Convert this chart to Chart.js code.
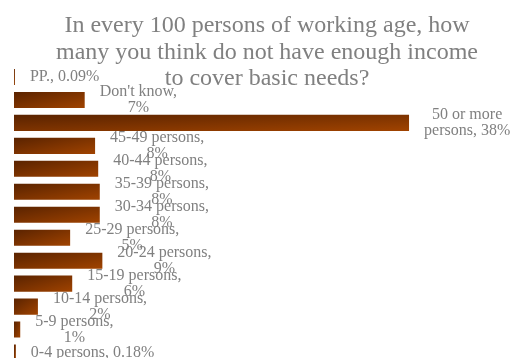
<!DOCTYPE html>
<html>
<head>
<meta charset="utf-8">
<title>Income poverty perception</title>
<script src="https://cdn.jsdelivr.net/npm/chart.js@4.4.0/dist/chart.umd.min.js"></script>
<style>
  html, body { margin: 0; padding: 0; overflow: hidden; background: #ffffff; }
  #wrap { width: 513px; height: 364px; }
</style>
</head>
<body>
<div id="wrap"><canvas id="incomeChart"></canvas></div>
<script>
const categories = [
  "PP.", "Don't know", "50 or more persons", "45-49 persons", "40-44 persons",
  "35-39 persons", "30-34 persons", "25-29 persons", "20-24 persons",
  "15-19 persons", "10-14 persons", "5-9 persons", "0-4 persons"
];
const shares = [0.09, 6.8, 38, 7.8, 8.1, 8.25, 8.25, 5.4, 8.5, 5.6, 2.3, 0.6, 0.18];
const titleLines = [
  "In every 100 persons of working age, how",
  "many you think do not have enough income",
  "to cover basic needs?"
];

const GREY = "#808080";
const SERIF = '"Liberation Serif", "Times New Roman", serif';

// corner-to-corner fill stretched with each bar's box (dark top-left, orange bottom-right)
function barGradient(ctx) {
  const chart = ctx.chart;
  if (ctx.type !== "data" || !chart.chartArea) return "#7d3300";
  const xs = chart.scales.x, ys = chart.scales.y;
  const x0 = xs.getPixelForValue(0);
  const w = Math.max(xs.getPixelForValue(ctx.raw) - x0, 0.5);
  const h = 16;
  const y0 = ys.getPixelForValue(ctx.dataIndex) - h / 2;
  const k = 2 * w * h / (w * w + h * h);
  const g = chart.ctx.createLinearGradient(x0, y0, x0 + k * h, y0 + k * w);
  g.addColorStop(0, "#5a2300");
  g.addColorStop(1, "#a04300");
  return g;
}

function formatShare(v) {
  return v < 0.5 ? v.toFixed(2) + "%" : Math.round(v) + "%";
}

function wrapWords(ctx, text, maxWidth) {
  const words = text.split(" ");
  const lines = [];
  let line = "";
  words.forEach(w => {
    const test = line ? line + " " + w : w;
    if (line && ctx.measureText(test).width > maxWidth) {
      lines.push(line);
      line = w;
    } else {
      line = test;
    }
  });
  if (line) lines.push(line);
  return lines;
}

const titlePlugin = {
  id: "titleText",
  afterDraw(chart) {
    const ctx = chart.ctx;
    ctx.save();
    ctx.font = "24px " + SERIF;
    ctx.fillStyle = GREY;
    ctx.textAlign = "center";
    ctx.textBaseline = "alphabetic";
    titleLines.forEach((t, i) => ctx.fillText(t, 267, 32 + i * 26.5));
    ctx.restore();
  }
};

const valueLabels = {
  id: "valueLabels",
  afterDatasetsDraw(chart) {
    const ctx = chart.ctx;
    const meta = chart.getDatasetMeta(0);
    const lineH = 16.5;
    ctx.save();
    ctx.font = "16px " + SERIF;
    ctx.fillStyle = GREY;
    ctx.textAlign = "center";
    ctx.textBaseline = "middle";
    meta.data.forEach((bar, i) => {
      const v = shares[i];
      const text = categories[i] + ", " + formatShare(v);
      const lines = v < 0.5 ? [text] : wrapWords(ctx, text, 100);
      const w = Math.max(...lines.map(l => ctx.measureText(l).width));
      const cx = bar.x + 15 + w / 2;
      const top = bar.y - (lines.length - 1) * lineH / 2;
      lines.forEach((l, k) => ctx.fillText(l, cx, top + k * lineH));
    });
    ctx.restore();
  }
};

new Chart(document.getElementById("incomeChart"), {
  type: "bar",
  data: {
    labels: categories,
    datasets: [{
      data: shares,
      backgroundColor: barGradient,
      borderWidth: 0,
      barPercentage: 0.7,
      categoryPercentage: 1
    }]
  },
  options: {
    indexAxis: "y",
    responsive: true,
    maintainAspectRatio: false,
    animation: false,
    layout: { padding: { top: 65.5, left: 14, right: 0, bottom: 0 } },
    plugins: {
      legend: { display: false },
      tooltip: { enabled: false },
      title: { display: false }
    },
    scales: {
      x: { display: false, min: 0, max: 48 },
      y: { display: false }
    }
  },
  plugins: [titlePlugin, valueLabels]
});
</script>
</body>
</html>
